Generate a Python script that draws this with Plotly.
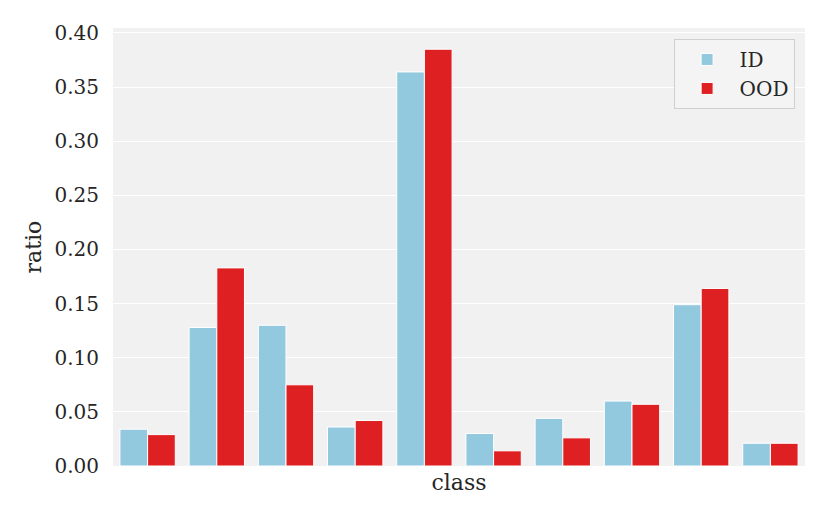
import plotly.graph_objects as go

classes = ["0", "1", "2", "3", "4", "5", "6", "7", "8", "9"]
id_ratio = [0.034, 0.128, 0.130, 0.036, 0.364, 0.030, 0.044, 0.060, 0.149, 0.021]
ood_ratio = [0.029, 0.183, 0.075, 0.042, 0.385, 0.014, 0.026, 0.057, 0.164, 0.021]
y_ticks = [0.0, 0.05, 0.10, 0.15, 0.20, 0.25, 0.30, 0.35, 0.40]

font_family = "DejaVu Serif"

fig = go.Figure()
fig.add_trace(go.Bar(x=classes, y=id_ratio, name="ID",
                     marker=dict(color="#93C9DF", line=dict(color="white", width=1))))
fig.add_trace(go.Bar(x=classes, y=ood_ratio, name="OOD",
                     marker=dict(color="#DF2022", line=dict(color="white", width=1))))

fig.update_layout(
    width=814, height=503,
    margin=dict(l=105, r=17, t=20, b=45),
    paper_bgcolor="white",
    plot_bgcolor="#F1F1F1",
    barmode="group", bargap=0.2, bargroupgap=0,
    font=dict(family=font_family, size=20, color="#262626"),
    legend=dict(x=0.985, y=0.975, xanchor="right", yanchor="top",
                bgcolor="rgba(244,244,244,0.9)", bordercolor="#D0D0D0", borderwidth=1,
                font=dict(size=20, family=font_family), tracegroupgap=0,
                itemwidth=55),
    xaxis=dict(showticklabels=False, showgrid=False, zeroline=False,
               title=dict(text="class", standoff=8, font=dict(size=22)),
               range=[-0.5, 9.5], automargin=False),
    yaxis=dict(range=[0, 0.4046], tickvals=y_ticks, tickformat=".2f",
               gridcolor="white", gridwidth=1.3, zeroline=False,
               ticks="", ticklen=0, ticklabelstandoff=13,
               title=dict(text="ratio", standoff=6, font=dict(size=22)),
               tickfont=dict(size=20), automargin=False),
)

fig.write_html("out.html")
